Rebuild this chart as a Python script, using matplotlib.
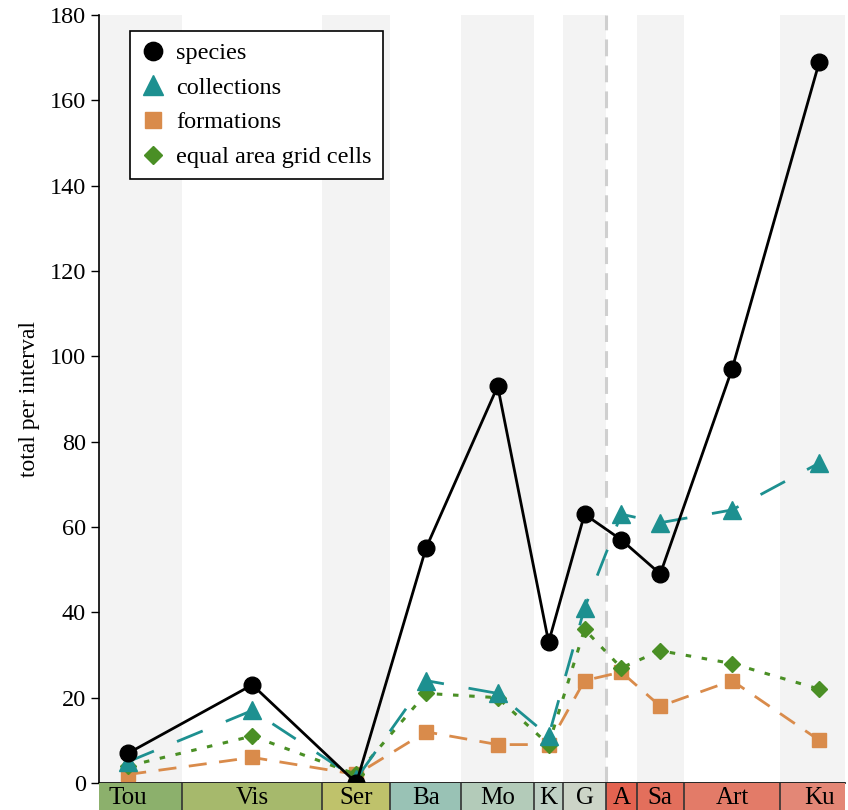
import matplotlib
matplotlib.use("Agg")
import matplotlib.pyplot as plt
from matplotlib.lines import Line2D
import numpy as np

plt.rcParams['font.family'] = ['Liberation Serif', 'DejaVu Serif']

# Stage boundaries (Ma), oldest first
stage_names = ["Tou", "Vis", "Ser", "Ba", "Mo", "K", "G", "A", "Sa", "Art", "Ku"]
boundaries = [358.9, 346.7, 330.9, 323.2, 315.2, 307.0, 303.7, 298.9, 295.4, 290.1, 279.2, 270.4]
stage_colors = ["#8CB06C", "#A6B96C", "#BFC26B", "#99C2B5", "#B3CBB9", "#BFD0C5",
                "#CCD4C7", "#E36350", "#E36F5C", "#E37B68", "#E38776"]

species = [7, 23, 0, 55, 93, 33, 63, 57, 49, 97, 169]
collections = [5, 17, 1, 24, 21, 11, 41, 63, 61, 64, 75]
formations = [2, 6, 2, 12, 9, 9, 24, 26, 18, 24, 10]
grid_cells = [4, 11, 2, 21, 20, 9, 36, 27, 31, 28, 22]

period_boundary = 298.9
xlim = (356.1, 271.9)
yticks = [0, 20, 40, 60, 80, 100, 120, 140, 160, 180]

b = np.array(boundaries)
mids = (b[:-1] + b[1:]) / 2

fig = plt.figure(figsize=(8.48, 8.10), dpi=100)
ax = fig.add_axes([99/848, 1 - 783/810, (845-99)/848, (783-15)/810])
bar = fig.add_axes([99/848, 0, (845-99)/848, 1 - 783/810 - 0.0005], sharex=ax)

# alternating grey bands
for i in range(len(stage_names)):
    if i % 2 == 0:
        ax.axvspan(b[i], b[i+1], color="#f3f3f3", zorder=0, lw=0)
ax.axvline(period_boundary, color="#cfcfcf", lw=2.2, ls=(0, (5.5, 3)), zorder=1)

ax.plot(mids, formations, color="#d98b4b", lw=2, ls=(0, (6.5, 4.5)), marker="s",
        ms=10, label="formations", zorder=3)
ax.plot(mids, grid_cells, color="#4a8f25", lw=2.2, ls=(0, (1.8, 3.5)), marker="D",
        ms=8, label="equal area grid cells", zorder=4)
ax.plot(mids, collections, color="#1d9090", lw=2, ls=(0, (10, 9)), marker="^",
        ms=13, label="collections", zorder=5)
ax.plot(mids, species, color="black", lw=2, marker="o", ms=12, label="species", zorder=6)

ax.set_xlim(*xlim)
ax.set_ylim(0, 180)
ax.set_yticks(yticks)
ax.tick_params(axis="y", labelsize=17.5, length=6, width=1, direction="out")
ax.tick_params(axis="x", bottom=False, labelbottom=False)
ax.set_ylabel("total per interval", fontsize=17, labelpad=7)
for s in ["top", "right"]:
    ax.spines[s].set_visible(False)
ax.spines["bottom"].set_linewidth(1.2)
ax.spines["left"].set_linewidth(1.2)

h, l = ax.get_legend_handles_labels()
order = [3, 2, 0, 1]
handles = []
for idx in order:
    hh = h[idx]
    handles.append(Line2D([], [], color=hh.get_color(), marker=hh.get_marker(),
                          ms=hh.get_markersize() * 1.1, ls="none"))
leg = ax.legend(handles, [l[i] for i in order], loc="upper left",
                bbox_to_anchor=(0.0416, 0.979), borderaxespad=0, fontsize=17.5,
                frameon=True, fancybox=False, edgecolor="black", framealpha=1,
                handletextpad=0.45, borderpad=0.45, labelspacing=0.52, handlelength=1.0)
leg.get_frame().set_linewidth(1.2)

# stage colour bar
for i, name in enumerate(stage_names):
    bar.axvspan(b[i], b[i+1], color=stage_colors[i], lw=0)
    bar.axvline(b[i], color="#333333", lw=1.2)
    bar.text(mids[i], 0.45, name, ha="center", va="center", fontsize=18,
             clip_on=True)
bar.set_ylim(0, 1)
bar.set_xlim(*xlim)
bar.axis("off")

fig.savefig("out.png", dpi=100)
